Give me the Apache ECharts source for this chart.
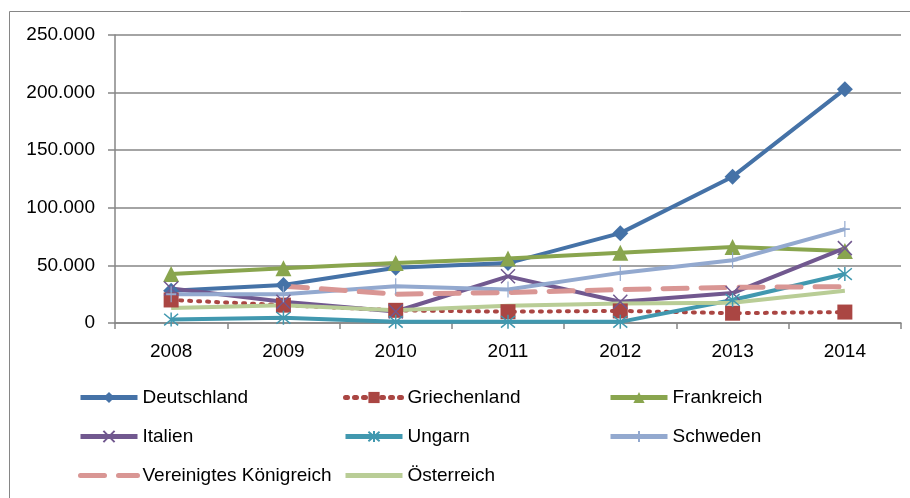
<!DOCTYPE html>
<html><head><meta charset="utf-8">
<script src="https://cdn.jsdelivr.net/npm/echarts@6/dist/echarts.min.js"></script>
<style>html,body{margin:0;padding:0;background:#fff}#c{width:910px;height:498px}</style>
</head><body><div id="c"></div>
<script>
const years = ['2008','2009','2010','2011','2012','2013','2014'];
const yTicks = [0, 50000, 100000, 150000, 200000, 250000];
const deutschland = [28000, 33000, 48000, 52000, 78000, 127000, 203000];
const griechenland = [20000, 15500, 11000, 9800, 10500, 8500, 9500];
const frankreich = [42500, 47500, 52000, 56000, 61000, 66000, 62500];
const italien = [30000, 18500, 10000, 40500, 18500, 26000, 65000];
const ungarn = [3000, 4500, 1000, 1000, 1000, 20000, 42500];
const schweden = [25000, 25000, 32000, 29000, 43500, 54500, 81500];
const vk = [null, 32000, 25000, 26500, 29000, 31000, 31500];
const oesterreich = [13000, 15500, 11000, 15000, 17000, 17500, 28000];

const FONT = 'Liberation Sans';
const FS = 19;
const X = 'path://M0,0L10,10M10,0L0,10';
const AST = 'path://M0,0L10,10M10,0L0,10M5,-1L5,11';
const PLUS = 'path://M5,0L5,16M0,8L10,8';

function s(name, data, color, symbol, size, lineType, width, strokeSym) {
  let itemStyle;
  if (symbol === 'none') itemStyle = { color, opacity: 0 };
  else if (strokeSym) itemStyle = { color: 'rgba(0,0,0,0)', borderColor: color, borderWidth: 1.5 };
  else itemStyle = { color };
  const ls = { color, width, type: lineType || 'solid' };
  if (Array.isArray(lineType)) ls.cap = 'round';
  return {
    name, type: 'line', data,
    symbol, symbolSize: size, showSymbol: symbol !== 'none',
    lineStyle: ls, itemStyle,
    emphasis: { disabled: true },
    animation: false
  };
}

const chart = echarts.init(document.getElementById('c'));
const legendText = { fontFamily: FONT, fontSize: FS, color: '#000' };
const legendBase = { orient: 'vertical', top: 388, padding: 0, itemWidth: 57, itemHeight: 14, itemGap: 20, textStyle: legendText, selectedMode: false, lineStyle: { width: 5 } };
const noSym = name => ({ name, itemStyle: { opacity: 0 } });
chart.setOption({
  animation: false,
  graphic: [{ type: 'rect', shape: { x: 9.5, y: 11.5, width: 1000, height: 1000 }, style: { fill: 'none', stroke: '#868686', lineWidth: 1 } }],
  grid: { left: 115, right: 9, top: 35, bottom: 175 },
  legend: [
    Object.assign({}, legendBase, { left: 78, data: ['Deutschland', 'Italien', noSym('Vereinigtes Königreich')] }),
    Object.assign({}, legendBase, { left: 343, data: ['Griechenland', 'Ungarn', noSym('Österreich')] }),
    Object.assign({}, legendBase, { left: 608, data: ['Frankreich', 'Schweden'] })
  ],
  xAxis: {
    type: 'category', data: years, boundaryGap: true,
    axisLine: { lineStyle: { color: '#868686', width: 1.5 } },
    axisTick: { show: true, length: 6, lineStyle: { color: '#868686', width: 1.5 } },
    axisLabel: { fontFamily: FONT, fontSize: FS, color: '#000', margin: 19 }
  },
  yAxis: {
    type: 'value', min: yTicks[0], max: yTicks[yTicks.length - 1], interval: 50000,
    axisLine: { show: true, lineStyle: { color: '#868686', width: 1.5 } },
    axisTick: { show: true, length: 7, lineStyle: { color: '#868686', width: 1.5 } },
    splitLine: { lineStyle: { color: '#868686', width: 1.5 } },
    axisLabel: {
      fontFamily: FONT, fontSize: FS, color: '#000', margin: 20,
      formatter: v => v === 0 ? '0' : v.toLocaleString('de-DE')
    }
  },
  series: [
    s('Deutschland', deutschland, '#4572A7', 'diamond', 16, 'solid', 4),
    s('Griechenland', griechenland, '#AA4643', 'rect', 15, [2, 7], 4),
    s('Frankreich', frankreich, '#89A54E', 'triangle', 16, 'solid', 4),
    s('Italien', italien, '#71588F', X, 14, 'solid', 4, true),
    s('Ungarn', ungarn, '#4198AF', AST, 14, 'solid', 4, true),
    s('Schweden', schweden, '#93A9CF', PLUS, [10, 16], 'solid', 4, true),
    s('Vereinigtes Königreich', vk, '#D99694', 'none', 1, [24, 14], 5),
    s('Österreich', oesterreich, '#B9CD96', 'none', 1, 'solid', 4)
  ]
});
</script></body></html>
